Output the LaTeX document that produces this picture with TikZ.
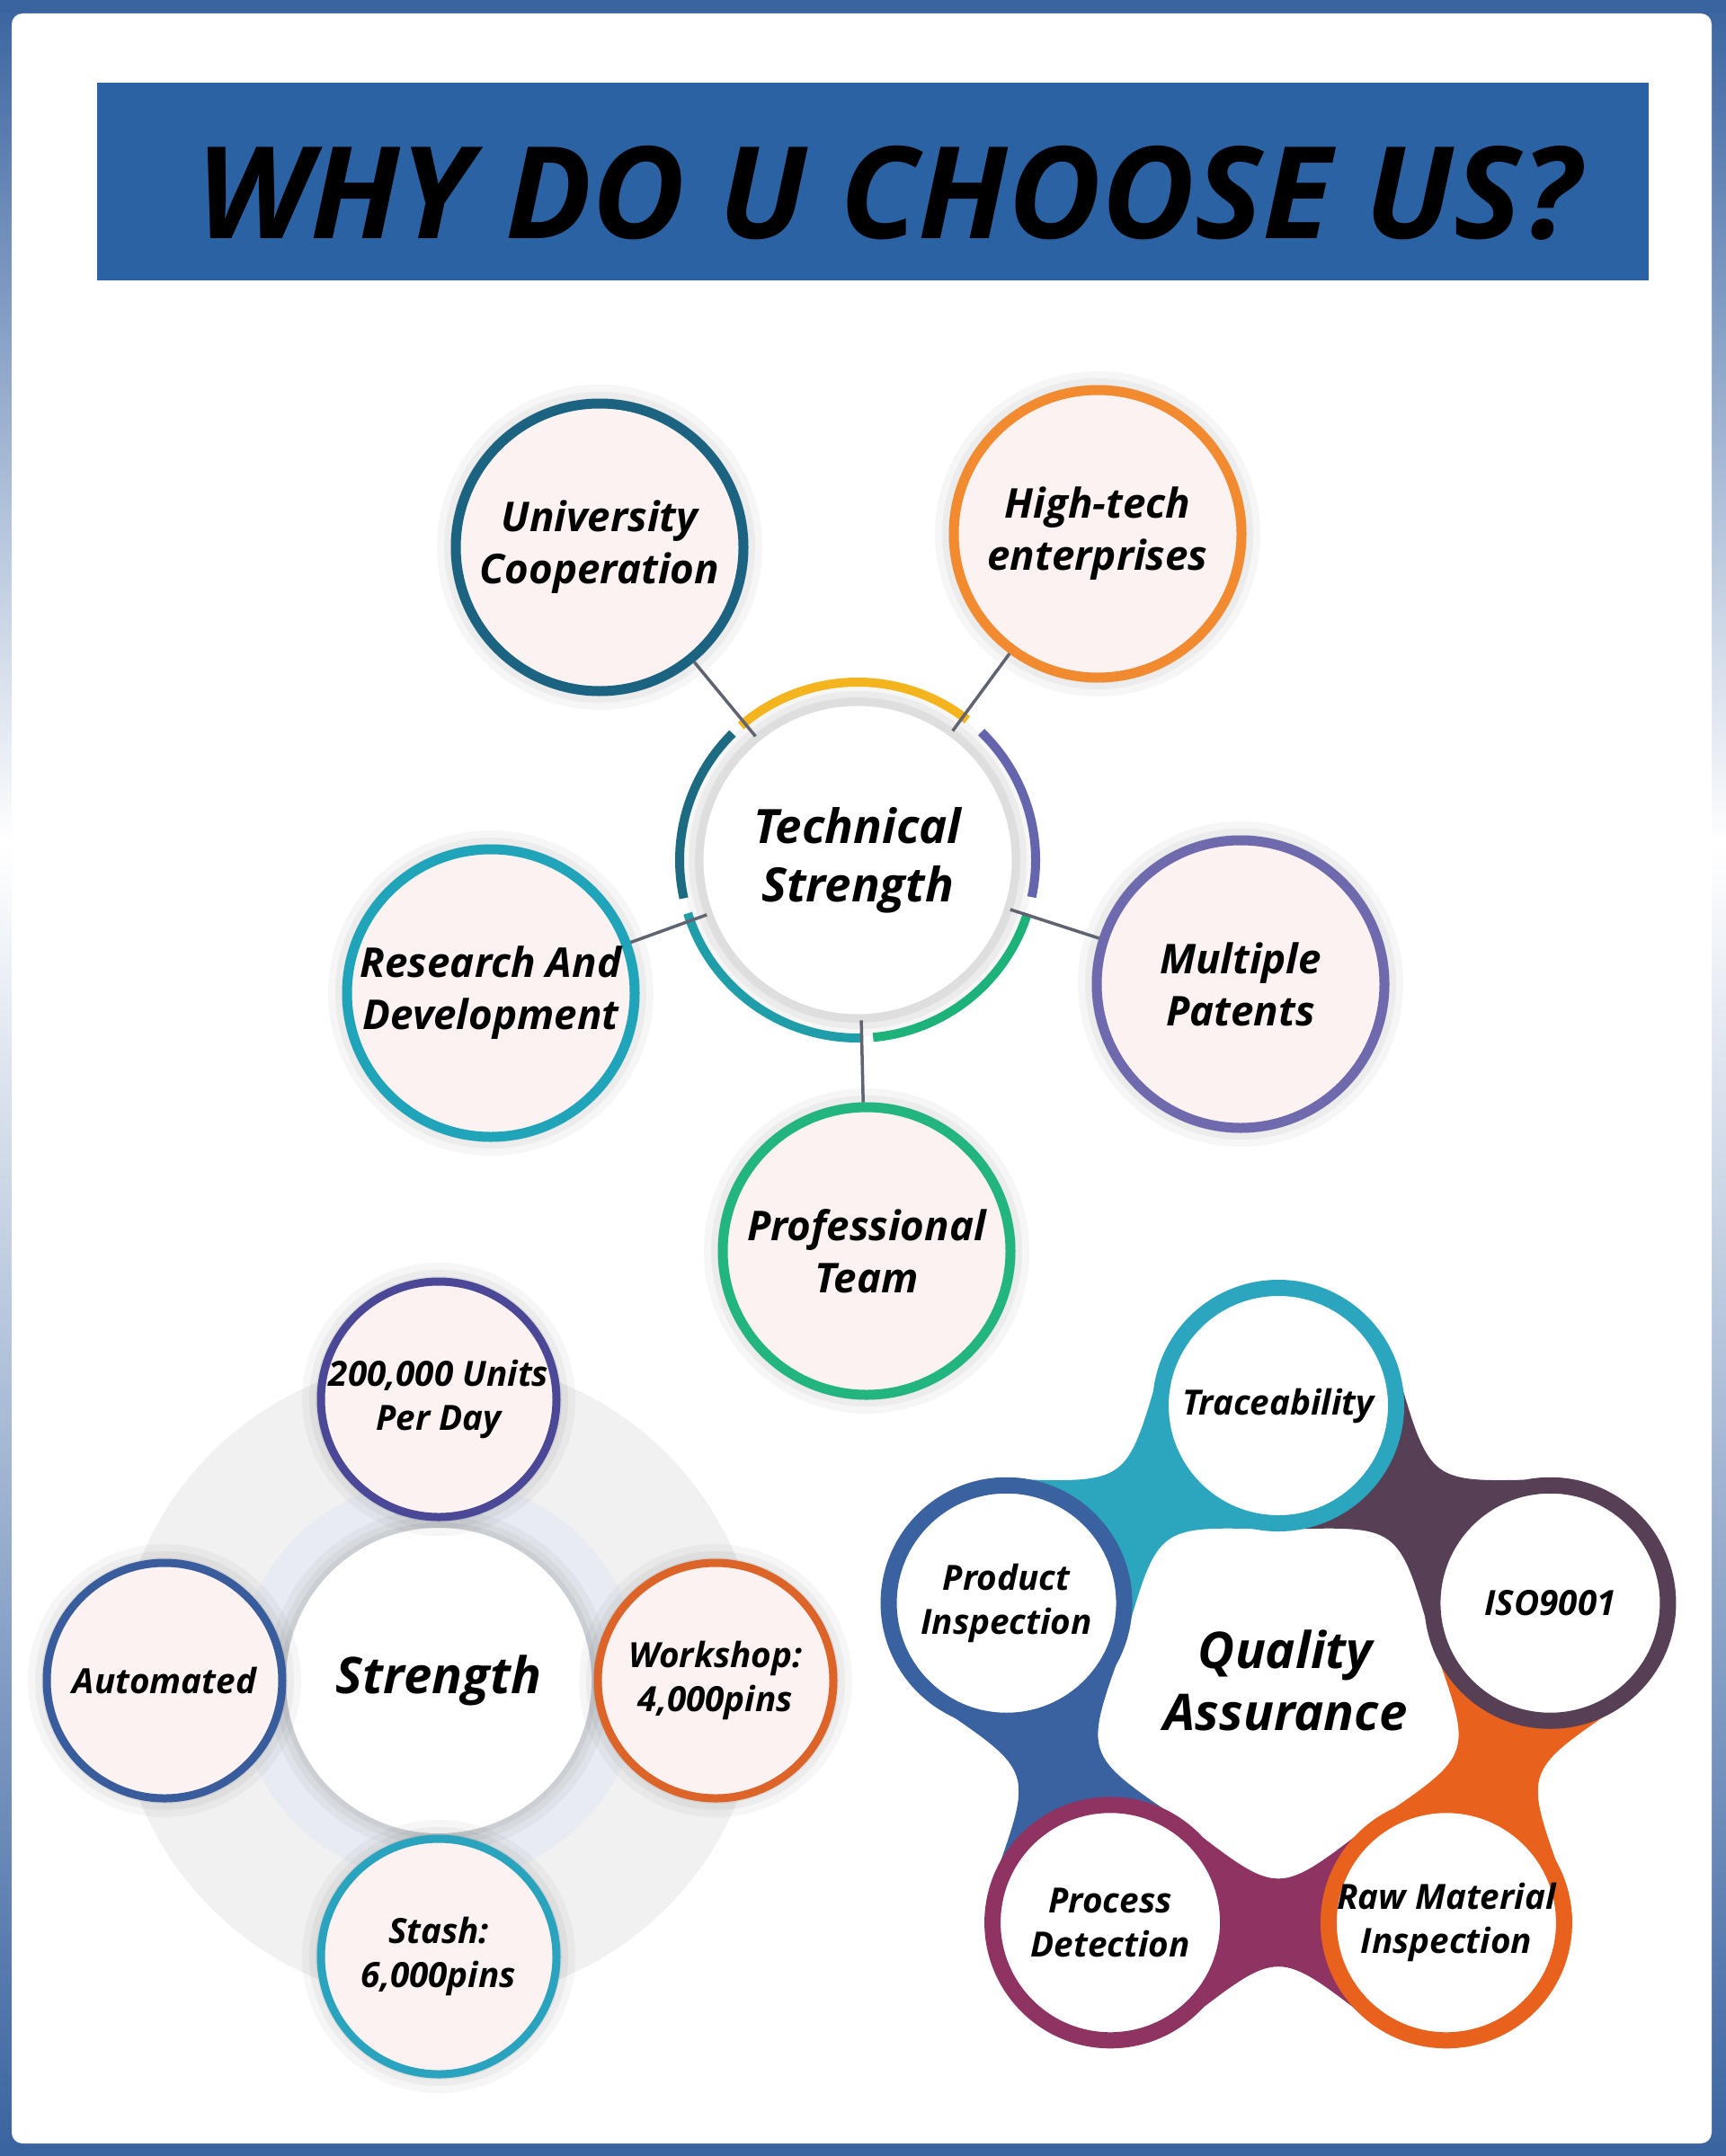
\documentclass[tikz,border=0pt]{standalone}
\usepackage{fontspec}
\setmainfont{Open Sans}
\usepackage{tikz}
\usetikzlibrary{calc}

\definecolor{frameblue}{HTML}{3A64A0}
\definecolor{bannerblue}{HTML}{2A62A4}
\definecolor{satfill}{HTML}{FDF2F2}
\definecolor{linkgray}{HTML}{5F6470}
\definecolor{univcol}{HTML}{1B6380}
\definecolor{hightechcol}{HTML}{F28A30}
\definecolor{researchcol}{HTML}{20A4BA}
\definecolor{patentcol}{HTML}{6F6AAE}
\definecolor{teamcol}{HTML}{22B57F}
\definecolor{ringyellow}{HTML}{F4B41E}
\definecolor{ringpurple}{HTML}{6565AE}
\definecolor{ringgreen}{HTML}{1DB27A}
\definecolor{ringteal}{HTML}{1F9EAA}
\definecolor{ringdark}{HTML}{1D6B82}
\definecolor{diskgray}{HTML}{F1F1F2}
\definecolor{diskblue}{HTML}{E8ECF2}
\definecolor{unitscol}{HTML}{4B4898}
\definecolor{autocol}{HTML}{385C9C}
\definecolor{workcol}{HTML}{DC6428}
\definecolor{stashcol}{HTML}{2AA3BF}
\definecolor{tracecol}{HTML}{2BA6BE}
\definecolor{isocol}{HTML}{573F55}
\definecolor{rawcol}{HTML}{E8621E}
\definecolor{proccol}{HTML}{8E3362}
\definecolor{prodcol}{HTML}{3B62A0}

\begin{document}
\begin{tikzpicture}[
    halo/.style={preaction={draw=black, draw opacity=0.035, line width=0.42cm}, preaction={draw=black, draw opacity=0.04, line width=0.26cm}, preaction={draw=black, draw opacity=0.05, line width=0.12cm}},
    sat/.style={circle, halo, line width=0.11cm, fill=satfill, minimum size=3.2cm, inner sep=0pt, align=center, font=\fontsize{13}{16.5}\selectfont\bfseries\itshape},
    smallsat/.style={circle, halo, line width=0.09cm, fill=satfill, minimum size=2.62cm, inner sep=0pt, align=center, font=\fontsize{11}{14}\selectfont\bfseries\itshape},
    qanode/.style={circle, line width=0.18cm, fill=white, minimum size=2.62cm, inner sep=0pt, align=center, font=\fontsize{11}{14}\selectfont\bfseries\itshape},
    core/.style={circle, fill=white, inner sep=0pt, align=center, font=\fontsize{16}{19.6}\selectfont\bfseries\itshape}]

    % Draw the frame
    \fill[frameblue] (0,0) rectangle (19.2,-23.99);
    \shade[top color=frameblue, bottom color=white] (0,0) rectangle (0.2,-9.4);
    \shade[top color=white, bottom color=frameblue] (0,-9.4) rectangle (0.2,-23.99);
    \shade[top color=frameblue, bottom color=white] (19.0,0) rectangle (19.2,-9.4);
    \shade[top color=white, bottom color=frameblue] (19.0,-9.4) rectangle (19.2,-23.99);
    \fill[frameblue] (0,0) rectangle (19.2,-0.15) (0,-23.85) rectangle (19.2,-23.99);
    \fill[white, rounded corners=0.12cm] (0.13,-0.15) rectangle (19.04,-23.85);

    % Title banner
    \node[fill=bannerblue, minimum width=17.26cm, minimum height=2.2cm] (banner) at (9.71,-2.02) {};
    \node[font=\fontsize{40.5}{42}\selectfont\bfseries\itshape] (title) at (9.88,-2.15) {WHY DO U CHOOSE US?};

    % Technical strength with its coloured ring
    \node[core, halo, draw=black!13, line width=0.07cm, minimum size=3.5cm, font=\fontsize{15}{18.5}\selectfont\bfseries\itshape] (tech) at (9.54,-9.57) {Technical\\Strength};
    \foreach \s/\e/\c in {52/131/ringyellow, -12/46/ringpurple, -85/-17.5/ringgreen, -162.6/-88.6/ringteal, 134.6/192.4/ringdark} \draw[\c, line width=0.1cm] ($(tech)+(\s:1.98)$) arc[start angle=\s, end angle=\e, radius=1.98];

    \node[sat, draw=univcol] (univ) at (6.67,-6.09) {University\\Cooperation};
    \node[sat, draw=hightechcol] (hightech) at (12.21,-5.94) {High-tech\\enterprises};
    \node[sat, draw=researchcol] (research) at (5.46,-11.05) {Research And\\Development};
    \node[sat, draw=patentcol] (patents) at (13.80,-10.95) {Multiple\\Patents};
    \node[sat, draw=teamcol] (team) at (9.64,-13.92) {Professional\\Team};
    \foreach \n in {univ, hightech, research, patents, team} \draw[linkgray, line width=0.035cm] (\n) -- (tech);

    % Strength disk
    \fill[diskgray] (4.88,-18.70) circle (3.58);
    \fill[diskblue] (4.88,-18.70) circle (2.25);
    \node[core, halo, minimum size=3.4cm] (strength) at (4.88,-18.70) {Strength};
    \node[smallsat, draw=unitscol] (units) at (4.88,-15.57) {200,000 Units\\Per Day};
    \node[smallsat, draw=autocol] (automated) at (1.83,-18.70) {Automated};
    \node[smallsat, draw=workcol] (workshop) at (7.96,-18.70) {Workshop:\\4,000pins};
    \node[smallsat, draw=stashcol] (stash) at (4.88,-21.77) {Stash:\\6,000pins};

    % Quality assurance ring
    \coordinate (qa) at (14.22,-18.82);
    \foreach \i/\a in {1/90, 2/18, 3/-54, 4/-126, 5/162} \coordinate (q\i) at ($(qa)+(\a:3.18)$);
    \foreach \i/\j/\c in {1/2/isocol, 2/3/rawcol, 3/4/proccol, 4/5/prodcol, 5/1/tracecol} \fill[\c] ($(q\i)!1.38cm!50:(q\j)$) .. controls ($(q\i)!0.5!(q\j)!0.3cm!90:(q\j)$) .. ($(q\j)!1.38cm!-50:(q\i)$) -- ($(q\j)!1.38cm!50:(q\i)$) .. controls ($(q\i)!0.5!(q\j)!0.3cm!-90:(q\j)$) .. ($(q\i)!1.38cm!-50:(q\j)$) -- cycle;
    \node[qanode, draw=tracecol] (trace) at (q1) {Traceability};
    \node[qanode, draw=isocol] (iso) at (q2) {ISO9001};
    \node[qanode, draw=rawcol] (raw) at (q3) {Raw Material\\Inspection};
    \node[qanode, draw=proccol] (process) at (q4) {Process\\Detection};
    \node[qanode, draw=prodcol] (product) at (q5) {Product\\Inspection};
    \node[align=center, font=\fontsize{16}{19.6}\selectfont\bfseries\itshape] (quality) at (14.30,-18.70) {Quality\\Assurance};
\end{tikzpicture}
\end{document}
